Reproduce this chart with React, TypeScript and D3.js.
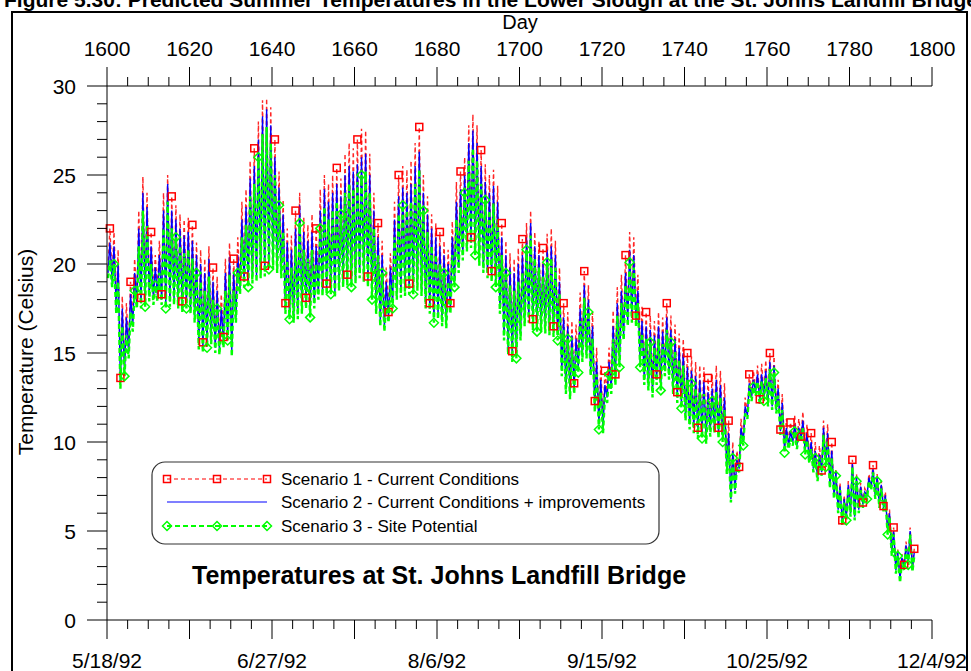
import React from 'react';
import * as d3 from 'd3';

const startDay = 1600;
const xTicksTop = [1600, 1620, 1640, 1660, 1680, 1700, 1720, 1740, 1760, 1780, 1800];
const xDateLabels = ['5/18/92', '6/27/92', '8/6/92', '9/15/92', '10/25/92', '12/4/92'];
const yTicks = [0, 5, 10, 15, 20, 25, 30];

// Scenario 2 daily high / low (deg C), day 1600 onward
const s2High = [21.2,21.0,20.0,17.5,17.0,18.3,19.5,22.0,24.0,23.2,21.0,19.8,20.5,23.0,24.5,23.0,22.5,22.0,21.6,21.8,21.3,20.5,20.0,19.5,20.3,19.0,18.5,17.5,19.5,20.4,19.5,20.5,22.5,23.2,24.8,25.5,27.0,28.3,28.7,27.8,26.0,24.3,22.8,21.2,20.8,22.0,23.3,21.8,21.3,21.8,21.0,23.0,24.2,23.5,24.0,24.5,23.8,25.0,25.5,25.2,25.6,26.0,26.2,25.0,23.0,21.5,20.5,19.0,19.8,22.5,23.8,24.3,24.0,24.5,25.5,26.3,24.0,22.8,22.0,21.5,21.0,20.5,20.0,21.5,23.5,24.2,25.0,26.8,27.5,26.8,25.5,24.6,24.0,24.4,23.5,21.5,20.5,19.8,19.5,20.0,20.5,21.5,22.3,21.0,20.5,20.0,20.8,21.0,20.5,19.0,17.0,16.5,16.0,15.8,17.5,18.8,18.0,16.5,14.5,13.5,13.2,14.5,16.5,17.8,18.5,19.5,20.8,20.5,18.5,16.8,16.5,16.3,16.0,16.5,16.2,17.0,16.3,15.8,15.3,15.0,14.2,14.0,13.7,13.5,13.4,12.8,13.0,13.5,13.2,12.5,10.5,9.5,9.0,10.8,12.0,13.3,13.5,13.8,13.8,14.0,14.5,14.3,13.0,12.2,10.8,10.6,11.0,10.8,11.2,10.5,10.0,9.5,9.3,10.8,10.5,9.5,8.3,7.5,6.8,7.6,8.8,8.0,7.5,7.2,8.0,8.5,8.0,7.6,7.0,6.0,5.0,3.8,3.5,4.2,5.0,3.8];
const s2Low = [19.5,19.0,17.5,13.3,14.0,15.0,16.5,17.8,17.8,17.9,18.2,18.0,18.2,18.0,17.8,17.9,18.0,17.8,17.6,17.8,17.5,17.0,15.5,15.3,15.6,15.8,15.3,15.2,15.6,16.0,15.1,17.0,18.6,19.0,19.0,19.2,19.3,19.5,19.6,20.0,20.0,19.8,19.5,17.5,17.2,17.0,17.2,17.5,17.8,17.3,17.8,18.3,18.5,18.6,18.6,18.4,18.8,19.0,19.1,19.0,19.2,19.5,19.3,19.0,18.3,17.5,16.8,16.5,17.0,17.8,18.3,18.4,18.5,18.6,18.6,18.8,18.5,17.8,17.5,17.0,17.2,16.8,16.7,17.5,19.0,19.8,20.5,21.0,21.2,20.8,20.2,19.8,19.5,19.3,19.0,17.5,16.0,15.2,14.8,15.0,16.0,16.8,17.0,16.6,16.5,16.5,16.4,16.3,16.2,16.0,14.0,13.0,12.7,13.0,14.2,14.8,15.0,14.0,12.0,11.0,10.8,12.5,13.0,13.5,14.5,16.0,16.8,17.0,16.8,14.5,13.5,13.2,12.8,13.5,13.2,14.0,13.8,13.0,12.5,12.2,11.5,11.0,10.8,10.5,10.5,10.2,10.6,10.8,10.5,10.3,8.5,6.8,7.3,8.5,10.0,11.5,12.5,12.8,12.3,12.5,12.2,12.0,11.8,10.6,9.6,9.8,10.0,9.8,10.2,9.5,9.0,8.5,8.0,8.3,8.8,7.6,7.0,6.2,5.5,5.8,6.0,5.8,6.2,6.5,7.0,7.5,7.0,6.5,6.3,5.0,3.8,2.8,2.3,3.0,3.3,2.9];

// Scenario 1 daily high / low
const s1High = [22.0,21.8,20.8,18.2,17.8,19.0,20.3,23.0,24.9,24.0,21.8,20.5,21.3,24.0,25.0,23.8,23.3,22.8,22.5,22.6,22.2,21.2,20.8,20.3,21.0,19.8,19.3,18.3,20.3,21.2,20.3,21.5,23.5,24.2,25.8,26.5,28.0,29.2,29.3,28.8,27.0,25.2,23.6,22.0,21.6,23.0,24.0,22.6,22.2,22.8,22.0,24.2,25.0,24.5,25.0,25.4,24.8,26.2,26.8,26.5,27.0,27.6,27.5,26.2,24.0,22.3,21.3,19.8,20.6,23.5,25.0,25.5,25.3,25.8,26.8,27.7,25.0,23.8,22.8,22.3,21.8,21.3,20.8,22.4,24.6,25.2,26.0,27.8,28.4,27.8,26.4,25.6,25.0,25.3,24.4,22.3,21.3,20.6,20.3,20.9,21.4,22.3,23.0,21.8,21.3,20.9,21.7,22.0,21.3,19.8,17.8,17.3,16.8,16.6,18.4,19.6,18.8,17.3,15.3,14.3,14.0,15.3,17.4,18.7,19.4,20.5,21.8,21.5,19.4,17.6,17.3,17.1,16.8,17.3,17.0,17.8,17.1,16.6,16.1,15.8,15.0,14.8,14.5,14.3,14.2,13.6,13.8,14.3,14.0,13.3,11.2,10.0,9.5,11.3,12.5,13.8,14.0,14.3,14.4,14.6,15.0,14.8,13.5,12.7,11.3,11.1,11.5,11.3,11.7,11.0,10.5,10.0,9.8,11.2,11.0,10.0,8.5,7.7,7.0,7.8,9.0,8.2,7.7,7.4,8.2,8.7,8.2,7.8,7.2,6.2,5.2,4.0,3.7,4.4,5.2,4.0];
const s1Low = [19.8,19.3,17.8,13.6,14.3,15.3,16.8,18.1,18.1,18.2,18.5,18.3,18.5,18.3,18.1,18.2,18.3,18.1,17.9,18.1,17.8,17.3,15.8,15.6,15.9,16.1,15.6,15.5,15.9,16.3,15.4,17.3,18.9,19.3,19.3,19.5,19.6,19.8,19.9,20.3,20.3,20.1,19.8,17.8,17.5,17.3,17.5,17.8,18.1,17.6,18.1,18.6,18.8,18.9,18.9,18.7,19.1,19.3,19.4,19.3,19.5,19.8,19.6,19.3,18.6,17.8,17.1,16.8,17.3,18.1,18.6,18.7,18.8,18.9,18.9,19.1,18.8,18.1,17.8,17.3,17.5,17.1,17.0,17.8,19.3,20.1,20.8,21.3,21.5,21.1,20.5,20.1,19.8,19.6,19.3,17.8,16.3,15.5,15.1,15.3,16.3,17.1,17.3,16.9,16.8,16.8,16.7,16.6,16.5,16.3,14.3,13.3,13.0,13.3,14.5,15.1,15.3,14.3,12.3,11.3,11.1,12.8,13.3,13.8,14.8,16.3,17.1,17.3,17.1,14.8,13.8,13.5,13.1,13.8,13.5,14.3,14.1,13.3,12.8,12.5,11.8,11.3,11.1,10.8,10.8,10.5,10.9,11.1,10.8,10.6,8.8,6.9,7.4,8.6,10.1,11.6,12.6,12.9,12.4,12.6,12.3,12.1,11.9,10.7,9.7,9.9,10.1,9.9,10.3,9.6,9.1,8.6,8.1,8.4,8.9,7.7,7.1,6.3,5.6,5.9,6.1,5.9,6.3,6.6,7.1,7.6,7.1,6.6,6.4,5.1,3.9,2.9,2.4,3.1,3.4,3.0];

// Scenario 3 daily high / low
const s3High = [20.2,20.0,19.0,16.5,16.0,17.3,18.5,21.0,23.0,22.2,20.0,18.8,19.5,22.0,23.5,22.0,21.5,21.0,20.6,20.8,20.3,19.5,19.0,18.5,19.3,18.0,17.5,16.5,18.5,19.4,18.5,19.5,21.5,22.2,23.8,24.5,26.0,27.3,27.7,26.8,25.0,23.3,21.8,20.2,19.8,21.0,22.3,20.8,20.3,20.8,20.0,22.0,23.2,22.5,23.0,23.5,22.8,24.0,24.5,24.2,24.6,25.0,25.2,24.0,22.0,20.5,19.5,18.0,18.8,21.5,22.8,23.3,23.0,23.5,24.5,25.3,23.0,21.8,21.0,20.5,20.0,19.5,19.0,20.5,22.5,23.2,24.0,25.8,26.5,25.8,24.5,23.6,23.0,23.4,22.5,20.5,19.5,18.8,18.5,19.0,19.5,20.8,21.6,20.3,19.8,19.3,20.1,20.3,19.8,18.3,16.3,15.8,15.3,15.1,16.8,18.1,17.3,15.8,13.8,12.8,12.5,13.8,15.8,17.1,17.8,18.8,20.1,19.8,17.8,16.1,15.8,15.6,15.3,15.8,15.5,16.3,15.6,15.1,14.6,14.3,13.5,13.3,13.0,12.8,12.7,12.1,12.3,12.8,12.5,11.8,9.8,9.1,8.6,10.4,11.6,12.9,13.1,13.4,13.4,13.6,14.1,13.9,12.6,11.8,10.4,10.2,10.6,10.4,10.8,10.1,9.6,9.1,8.9,10.4,10.1,9.1,8.1,7.3,6.6,7.4,8.6,7.8,7.3,7.0,7.8,8.3,7.8,7.4,6.8,5.8,4.8,3.6,3.3,4.0,4.8,3.6];
const s3Low = [19.2,18.7,17.2,13.0,13.7,14.7,16.2,17.5,17.5,17.6,17.9,17.7,17.9,17.7,17.5,17.6,17.7,17.5,17.3,17.5,17.2,16.7,15.2,15.0,15.3,15.5,15.0,14.9,15.3,15.7,14.8,16.7,18.3,18.7,18.7,18.9,19.0,19.2,19.3,19.7,19.7,19.5,19.2,17.2,16.9,16.7,16.9,17.2,17.5,17.0,17.5,18.0,18.2,18.3,18.3,18.1,18.5,18.7,18.8,18.7,18.9,19.2,19.0,18.7,18.0,17.2,16.5,16.2,16.7,17.5,18.0,18.1,18.2,18.3,18.3,18.5,18.2,17.5,17.2,16.7,16.9,16.5,16.4,17.2,18.7,19.5,20.2,20.7,20.9,20.5,19.9,19.5,19.2,19.0,18.7,17.2,15.7,14.9,14.5,14.7,15.7,16.5,16.7,16.3,16.2,16.2,16.1,16.0,15.9,15.7,13.7,12.7,12.4,12.7,13.9,14.5,14.7,13.7,11.7,10.7,10.5,12.2,12.7,13.2,14.2,15.7,16.5,16.7,16.5,14.2,13.2,12.9,12.5,13.2,12.9,13.7,13.5,12.7,12.2,11.9,11.2,10.7,10.5,10.2,10.2,9.9,10.3,10.5,10.2,10.0,8.2,6.6,7.1,8.3,9.8,11.3,12.3,12.6,12.1,12.3,12.0,11.8,11.6,10.4,9.4,9.6,9.8,9.6,10.0,9.3,8.8,8.3,7.8,8.1,8.6,7.4,6.8,6.0,5.3,5.6,5.8,5.6,6.0,6.3,6.8,7.3,6.8,6.3,6.1,4.8,3.6,2.6,2.1,2.8,3.1,2.7];

const seriesNames = [
  'Scenario 1 - Current Conditions',
  'Scenario 2 - Current Conditions + improvements',
  'Scenario 3 - Site Potential',
];

const W = 971;
const H = 671;
const FONT = 'Arial, "Liberation Sans", Helvetica, sans-serif';

const x = d3.scaleLinear().domain([1600, 1800]).range([107, 932]);
const y = d3.scaleLinear().domain([0, 30]).range([620, 86]);

type Pt = [number, number];
function toPoints(high: number[], low: number[]): Pt[] {
  const pts: Pt[] = [];
  for (let i = 0; i < high.length; i++) {
    pts.push([startDay + i + 0.25, low[i]]);
    pts.push([startDay + i + 0.7, high[i]]);
  }
  return pts;
}

const line = d3
  .line<Pt>()
  .x((d) => x(d[0]))
  .y((d) => y(d[1]));

const p1 = toPoints(s1High, s1Low);
const p2 = toPoints(s2High, s2Low);
const p3 = toPoints(s3High, s3Low);

const m1 = p1.filter((_, i) => i % 5 === 1);
const m3 = p3.filter((_, i) => i % 5 === 3);

const minorTicks = d3.range(1600, 1801, 5);
const majorTicks = d3.range(1600, 1801, 20);
const dateTicks = d3.range(1600, 1801, 40);
const yMinor = d3.range(0, 31, 1);

const RED = '#ff0000';
const BLUE = '#0000ff';
const GREEN = '#00ff00';

function Square({ cx, cy }: { cx: number; cy: number }) {
  return <rect x={cx - 3.5} y={cy - 3.5} width={7} height={7} fill="none" stroke={RED} strokeWidth={1.5} />;
}
function Diamond({ cx, cy }: { cx: number; cy: number }) {
  const r = 4.5;
  return (
    <path
      d={`M${cx - r},${cy}L${cx},${cy - r}L${cx + r},${cy}L${cx},${cy + r}Z`}
      fill="none"
      stroke={GREEN}
      strokeWidth={1.5}
    />
  );
}

export default function App() {
  const legendX = 152;
  const legendY = 462;
  const rows = [479, 502, 526];
  const lx1 = 167;
  const lx2 = 267;
  const lmid = 217;
  return (
    <svg
      width={W}
      height={H}
      style={{ position: 'absolute', left: 0, top: 0, background: '#fff' }}
      fontFamily={FONT}
    >
      <rect x={0} y={0} width={W} height={H} fill="#fff" />
      {/* Figure title (partly outside the picture, as in the source page) */}
      <text x={4} y={7} fontSize={21} fontWeight="bold" fill="#000">
        Figure 5.30:  Predicted Summer Temperatures in the Lower Slough at the St. Johns Landfill Bridge
      </text>
      {/* frame */}
      <path d={`M12,${H + 5}V12H967V${H + 5}`} fill="none" stroke="#000" strokeWidth={2} />

      {/* series */}
      <path d={line(p1) || ''} fill="none" stroke={RED} strokeWidth={1.4} strokeDasharray="4,3" opacity={0.85} />
      <path d={line(p2) || ''} fill="none" stroke={BLUE} strokeWidth={1.4} />
      <path d={line(p3) || ''} fill="none" stroke={GREEN} strokeWidth={2.4} strokeDasharray="5,3" />
      {m1.map((d, i) => (
        <Square key={'s' + i} cx={x(d[0])} cy={y(d[1])} />
      ))}
      {m3.map((d, i) => (
        <Diamond key={'d' + i} cx={x(d[0])} cy={y(d[1])} />
      ))}

      {/* top axis */}
      <line x1={x(1600)} x2={x(1800)} y1={y(30)} y2={y(30)} stroke="#000" strokeWidth={1} />
      {minorTicks.map((t) => (
        <line key={'tt' + t} x1={x(t)} x2={x(t)} y1={y(30)} y2={y(30) - (t % 20 === 0 ? 19 : 9)} stroke="#000" strokeWidth={1} />
      ))}
      {xTicksTop.map((t) => (
        <text key={'tl' + t} x={x(t)} y={56} fontSize={21} textAnchor="middle" fill="#000">
          {t}
        </text>
      ))}
      <text x={520} y={29} fontSize={20} textAnchor="middle" fill="#000">
        Day
      </text>

      {/* bottom axis */}
      <line x1={x(1600)} x2={x(1800)} y1={y(0)} y2={y(0)} stroke="#000" strokeWidth={1} />
      {minorTicks.map((t) => (
        <line key={'bt' + t} x1={x(t)} x2={x(t)} y1={y(0)} y2={y(0) + (majorTicks.includes(t) ? 19 : 9)} stroke="#000" strokeWidth={1} />
      ))}
      {dateTicks.map((t, i) => (
        <text key={'bl' + t} x={x(t)} y={668} fontSize={21} textAnchor="middle" fill="#000">
          {xDateLabels[i]}
        </text>
      ))}

      {/* left axis */}
      <line x1={x(1600)} x2={x(1600)} y1={y(0)} y2={y(30)} stroke="#000" strokeWidth={1} />
      {yMinor.map((v) => (
        <line key={'yt' + v} x1={x(1600)} x2={x(1600) - (v % 5 === 0 ? 20 : 10)} y1={y(v)} y2={y(v)} stroke="#000" strokeWidth={1} />
      ))}
      {yTicks.map((v) => (
        <text key={'yl' + v} x={76} y={y(v) + 7.5} fontSize={21} textAnchor="end" fill="#000">
          {v}
        </text>
      ))}
      <text
        transform={`translate(33,${352}) rotate(-90)`}
        fontSize={21}
        textAnchor="middle"
        fill="#000"
      >
        Temperature (Celsius)
      </text>

      {/* legend */}
      <rect x={legendX} y={legendY} width={507} height={82} rx={13} fill="#fff" stroke="#333" strokeWidth={1.2} />
      <line x1={lx1} x2={lx2} y1={rows[0]} y2={rows[0]} stroke={RED} strokeWidth={1.2} strokeDasharray="4,3" />
      {[lx1, lmid, lx2].map((cx) => (
        <Square key={'ls' + cx} cx={cx} cy={rows[0]} />
      ))}
      <line x1={lx1} x2={lx2} y1={rows[1]} y2={rows[1]} stroke={BLUE} strokeWidth={1.2} />
      <line x1={lx1} x2={lx2} y1={rows[2]} y2={rows[2]} stroke={GREEN} strokeWidth={2} strokeDasharray="5,3" />
      {[lx1, lmid, lx2].map((cx) => (
        <Diamond key={'ld' + cx} cx={cx} cy={rows[2]} />
      ))}
      {seriesNames.map((n, i) => (
        <text key={n} x={281} y={rows[i] + 6} fontSize={17} fill="#000">
          {n}
        </text>
      ))}

      <text x={192} y={584} fontSize={25} fontWeight="bold" fill="#000">
        Temperatures at St. Johns Landfill Bridge
      </text>
    </svg>
  );
}
